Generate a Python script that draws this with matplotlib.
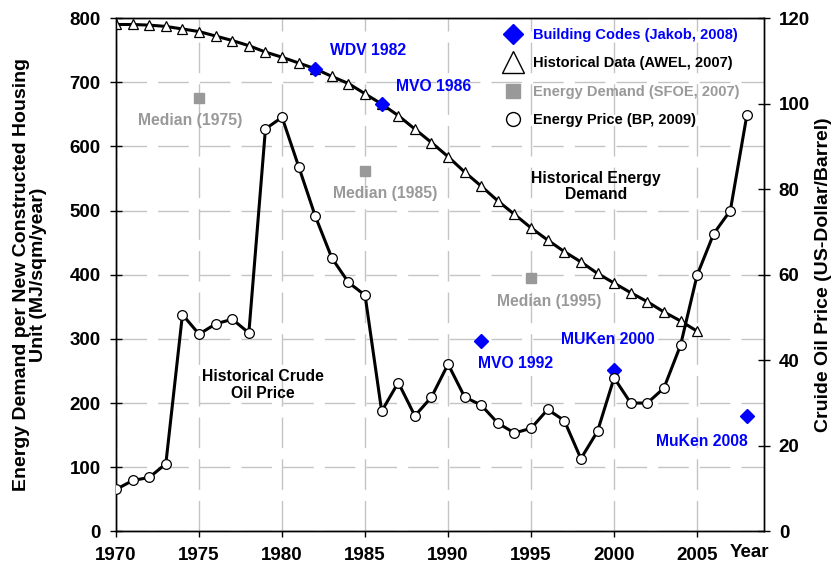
import matplotlib
matplotlib.use("Agg")
import matplotlib.pyplot as plt
from matplotlib.lines import Line2D
from matplotlib.ticker import MultipleLocator

plt.rcParams["font.family"] = ["Liberation Sans", "DejaVu Sans"]
plt.rcParams["font.weight"] = "bold"

BLUE = "#0000ff"
GRAY = "#999999"

# historical energy demand (AWEL, 2007), MJ/sqm/year
hist_years = list(range(1970, 2006))
hist_demand = [790, 790, 789, 787, 783, 779, 772, 765, 757, 747, 739, 730,
               721, 709, 698, 682, 666, 648, 627, 606, 584, 560, 538, 515,
               494, 473, 454, 436, 420, 402, 387, 372, 358, 342, 328, 312]

# building codes (Jakob, 2008)
code_years = [1982, 1986, 1992, 2000, 2008]
code_demand = [720, 666, 297, 251, 180]
code_names = ["WDV 1982", "MVO 1986", "MVO 1992", "MUKen 2000", "MuKen 2008"]

# median energy demand (SFOE, 2007)
sfoe_years = [1975, 1985, 1995]
sfoe_demand = [676, 561, 395]

# crude oil price (BP, 2009), US-Dollar/Barrel
price_years = list(range(1970, 2009))
price = [9.8, 11.9, 12.6, 15.8, 50.7, 46.1, 48.5, 49.6, 46.4, 94.1, 96.8,
         85.3, 73.7, 63.9, 58.2, 55.2, 28.1, 34.8, 27.0, 31.4, 39.1, 31.4,
         29.5, 25.3, 23.0, 24.1, 28.5, 25.9, 17.0, 23.4, 35.9, 30.0, 30.0,
         33.5, 43.5, 59.9, 69.6, 75.0, 97.4]

fig = plt.figure(figsize=(8.33, 5.65), dpi=100)
ax = fig.add_axes([0.1393, 0.0595, 0.7773, 0.9085])
ax2 = ax.twinx()

grid_kw = dict(color="#c4c4c4", lw=1.0, dashes=(22, 8))
ax.grid(True, **grid_kw)
ax.set_axisbelow(True)

ax.plot(hist_years, hist_demand, color="black", lw=2.2, marker="^", ms=6.5,
        mfc="white", mec="black", mew=0.9, zorder=3)
ax.plot(sfoe_years, sfoe_demand, ls="None", marker="s", ms=7, color=GRAY,
        zorder=3)
ax.plot(code_years, code_demand, ls="None", marker="D", ms=7.5, color=BLUE,
        zorder=4)

ax2.plot(price_years, price, color="black", lw=2.2, marker="o", ms=7,
         mfc="white", mec="black", mew=0.9, zorder=3)

ax.set_xlim(1970, 2009)
ax.set_ylim(0, 800)
ax2.set_ylim(0, 120)
ax.set_xticks(range(1970, 2006, 5))
ax.yaxis.set_major_locator(MultipleLocator(100))
ax2.yaxis.set_major_locator(MultipleLocator(20))

for a in (ax, ax2):
    for s in a.spines.values():
        s.set_linewidth(1.0)
ax.tick_params(axis="both", direction="inout", length=8, width=1.0,
               labelsize=13.5, pad=7)
ax.tick_params(axis="x", direction="out", length=4, pad=7)
ax2.tick_params(axis="y", direction="inout", length=8, width=1.0,
                labelsize=13.5, pad=7)

ax.set_ylabel("Energy Demand per New Constructed Housing\nUnit (MJ/sqm/year)",
              fontsize=14, fontweight="bold", linespacing=1.0, labelpad=16)
ax2.set_ylabel("Cruide Oil Price (US-Dollar/Barrel)", fontsize=14,
               fontweight="bold", labelpad=4)
fig.text(749 / 833, 1 - 552.7 / 565, "Year", ha="center", va="center",
         fontsize=13.5, fontweight="bold")

# labels for building codes
code_pos = [(1985.2, 750), (1989.15, 693), (1994.05, 261), (1999.62, 299),
            (2005.31, 140)]
for name, (x, y) in zip(code_names, code_pos):
    ax.text(x, y, name, color=BLUE, fontsize=11.3, ha="center", va="center",
            zorder=5)

median_pos = [(1974.45, 641), (1986.2, 526), (1996.07, 358)]
for yr, (x, y) in zip(sfoe_years, median_pos):
    ax.text(x, y, "Median (%d)" % yr, color=GRAY, fontsize=11.3,
            ha="center", va="center", zorder=5)

ax.text(1978.85, 228, "Historical Crude\nOil Price", fontsize=11.3,
        ha="center", va="center", linespacing=1.1, zorder=5)
ax.text(1998.9, 538, "Historical Energy\nDemand", fontsize=11.3,
        ha="center", va="center", linespacing=1.1, zorder=5)

handles = [
    Line2D([], [], ls="None", marker="D", ms=10.5, color=BLUE),
    Line2D([], [], ls="None", marker="^", ms=16, mfc="white", mec="black",
           mew=1.0),
    Line2D([], [], ls="None", marker="s", ms=10, color=GRAY),
    Line2D([], [], ls="None", marker="o", ms=10, mfc="white", mec="black",
           mew=1.0),
]
labels = ["Building Codes (Jakob, 2008)", "Historical Data (AWEL, 2007)",
          "Energy Demand (SFOE, 2007)", "Energy Price (BP, 2009)"]
fig.legend(handles, labels, loc="upper left",
           bbox_to_anchor=(505.7 / 833, 1 - 27.7 / 565), frameon=False,
           fontsize=10.5, handlelength=1.0, handletextpad=0.87,
           labelspacing=1.0, borderpad=0, borderaxespad=0,
           labelcolor=[BLUE, "black", GRAY, "black"])

fig.savefig("out.png", dpi=100)
